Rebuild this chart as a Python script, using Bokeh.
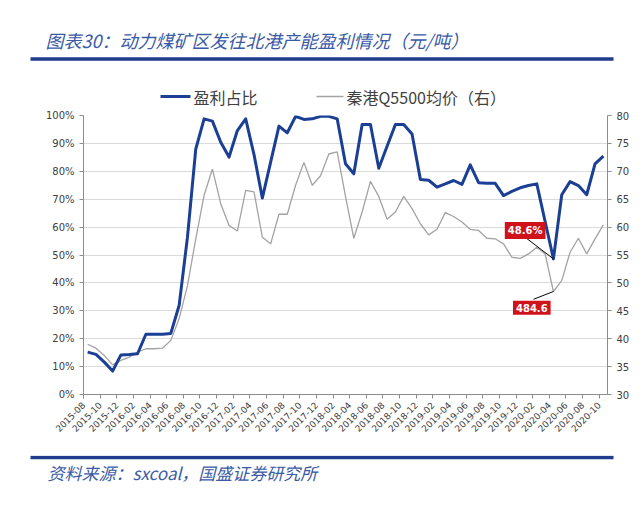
from bokeh.plotting import figure
from bokeh.models import (Range1d, LinearAxis, FixedTicker, PrintfTickFormatter,
                          Label, ColumnDataSource)
from bokeh.layouts import column, row
from bokeh.core.properties import value
from bokeh.embed import file_html
from bokeh.resources import INLINE
import math

# ---------------- data ----------------
tick_labels = ["2015-08", "2015-10", "2015-12", "2016-02", "2016-04", "2016-06",
               "2016-08", "2016-10", "2016-12", "2017-02", "2017-04", "2017-06",
               "2017-08", "2017-10", "2017-12", "2018-02", "2018-04", "2018-06",
               "2018-08", "2018-10", "2018-12", "2019-02", "2019-04", "2019-06",
               "2019-08", "2019-10", "2019-12", "2020-02", "2020-04", "2020-06",
               "2020-08", "2020-10"]

profit_share = [15.2, 14.4, 11.6, 8.4, 14.2, 14.3, 14.6, 21.6, 21.6, 21.6, 21.9,
                32.0, 56.4, 88.0, 98.8, 98.0, 90.4, 85.1, 94.6, 98.8, 86.0,
                70.4, 83.3, 96.2, 93.8, 99.7, 98.6, 98.8, 99.7, 99.7, 98.8,
                82.7, 79.1, 96.8, 96.8, 81.1, 89.0, 96.8, 96.8, 93.4, 77.1,
                76.8, 74.3, 75.5, 76.7, 75.3, 82.3, 75.9, 75.7, 75.7, 71.3,
                72.8, 74.1, 74.9, 75.5, 62.0, 48.6, 71.6, 76.3, 74.9, 71.6, 82.7, 85.4]

qhd_price = [39.0, 38.3, 37.0, 35.3, 36.1, 36.7, 37.6, 38.2, 38.2, 38.3, 39.7,
             43.6, 49.5, 57.9, 65.7, 70.4, 64.2, 60.3, 59.3, 66.6, 66.3,
             58.2, 57.0, 62.3, 62.3, 67.5, 71.6, 67.5, 69.2, 73.1, 73.5,
             65.5, 58.0, 62.7, 68.2, 65.5, 61.4, 62.7, 65.5, 63.3, 60.6,
             58.6, 59.6, 62.6, 61.9, 60.9, 59.6, 59.4, 58.0, 57.9, 57.0,
             54.6, 54.4, 55.2, 56.4, 55.2, 48.46, 50.4, 55.5, 58.0, 55.2, 57.9, 60.4]

month_index = list(range(len(profit_share)))

series_names = ["盈利占比", "秦港Q5500均价（右）"]
title_text = "图表30：动力煤矿区发往北港产能盈利情况（元/吨）"
source_text = "资料来源：sxcoal，国盛证券研究所"

# ---------------- styles ----------------
BLUE = "#1b3f95"
GRAY = "#a3a3a3"
RULE = "#1f3d8c"
TXT = "#404040"
HEAD_TXT = "#3a5ba6"
CJK = "Noto Sans CJK SC"
W = 640


def blank_panel(height, top_px):
    """A figure whose frame is the whole canvas; y values are page pixels from the top."""
    f = figure(width=W, height=height, x_range=Range1d(0, W),
               y_range=Range1d(top_px + height, top_px),
               output_backend="svg", toolbar_location=None,
               min_border_left=0, min_border_right=0, min_border_top=0, min_border_bottom=0)
    f.axis.visible = False
    f.grid.visible = False
    f.outline_line_color = None
    return f


# ---------------- header ----------------
HEAD_H = 108
head = blank_panel(HEAD_H, 0)
head.text(x=[45], y=[39], text=[title_text], text_font=value(CJK), text_font_size="18px",
          text_font_style="italic", text_color=HEAD_TXT, text_baseline="middle")
head.segment(x0=[30], y0=[58.5], x1=[613], y1=[58.5], line_color=RULE, line_width=3.5)
# legend drawn as line samples + text
head.segment(x0=[160, 316], y0=[96, 96], x1=[190, 343], y1=[96, 96],
             line_color=[BLUE, GRAY], line_width=[3, 1.3])
head.text(x=[193, 346], y=[96, 96], text=series_names, text_font=value(CJK),
          text_font_size="16px", text_color=TXT, text_baseline="middle")

# ---------------- main chart ----------------
MAIN_H = 455 - HEAD_H
TOP_B = 115 - HEAD_H
p = figure(width=W, height=MAIN_H, x_range=Range1d(-0.5, len(month_index) - 0.5),
           y_range=Range1d(0, 100), output_backend="svg", toolbar_location=None,
           min_border_left=83, min_border_right=33, min_border_top=TOP_B,
           min_border_bottom=MAIN_H - TOP_B - 279)
p.outline_line_color = None
p.xgrid.visible = False
p.ygrid.grid_line_color = "#dadada"
p.ygrid.grid_line_width = 1
p.ygrid.ticker = FixedTicker(ticks=list(range(0, 101, 10)))

p.extra_y_ranges = {"price": Range1d(30, 80)}

tick_pos = [-0.5 + 2 * k for k in range(len(tick_labels))]
p.xaxis.ticker = FixedTicker(ticks=tick_pos)
p.xaxis.major_label_overrides = {t: lab for t, lab in zip(tick_pos, tick_labels)}
p.xaxis.major_label_orientation = math.pi / 4
p.xaxis.major_label_text_font_size = "9px"

p.yaxis.ticker = FixedTicker(ticks=list(range(0, 101, 10)))
p.yaxis.formatter = PrintfTickFormatter(format="%d%%")
p.yaxis.major_label_text_font_size = "10px"

raxis = LinearAxis(y_range_name="price", ticker=FixedTicker(ticks=list(range(30, 81, 5))))
raxis.major_label_text_font_size = "10px"
p.add_layout(raxis, "right")

for ax in [p.xaxis[0], p.yaxis[0], raxis]:
    ax.axis_line_color = "#8c8c8c"
    ax.major_tick_line_color = "#8c8c8c"
    ax.major_tick_in = 0
    ax.major_tick_out = 4
    ax.minor_tick_line_color = None
    ax.major_label_text_color = TXT
    ax.major_label_text_font = "DejaVu Sans"
    ax.major_label_standoff = 5

src = ColumnDataSource(dict(x=month_index, share=profit_share, price=qhd_price))
p.line("x", "price", source=src, y_range_name="price", line_color=GRAY, line_width=1.3)
p.line("x", "share", source=src, line_color=BLUE, line_width=3, line_join="round")

# ---- trough annotations (2020-04) ----
i_min = profit_share.index(min(profit_share[40:]))
j_min = qhd_price.index(min(qhd_price[40:]))
p.segment(x0=[i_min], y0=[profit_share[i_min]], x1=[i_min - 3.2], y1=[profit_share[i_min] + 7.3],
          line_color="black", line_width=1)
p.segment(x0=[j_min], y0=[qhd_price[j_min]], x1=[j_min - 2.4], y1=[qhd_price[j_min] - 1.4],
          y_range_name="price", line_color="black", line_width=1)
lab1 = Label(x=i_min - 3.4, y=profit_share[i_min] + 10.2, text=f"{profit_share[i_min]:.1f}%",
             text_align="center", text_baseline="middle", text_color="white",
             text_font="DejaVu Sans", text_font_style="bold", text_font_size="10px",
             background_fill_color="#d0121b", padding=3)
lab2 = Label(x=j_min - 2.6, y=qhd_price[j_min] - 2.9, y_range_name="price",
             text=f"{qhd_price[j_min] * 10:.1f}",
             text_align="center", text_baseline="middle", text_color="white",
             text_font="DejaVu Sans", text_font_style="bold", text_font_size="10px",
             background_fill_color="#d0121b", padding=3)
p.add_layout(lab1)
p.add_layout(lab2)

# ---------------- footer ----------------
foot = blank_panel(515 - 455, 455)
foot.segment(x0=[30], y0=[457], x1=[613], y1=[457], line_color=RULE, line_width=3.5)
foot.text(x=[47], y=[472], text=[source_text], text_font=value(CJK), text_font_size="17px",
          text_font_style="italic", text_color=HEAD_TXT, text_baseline="middle")

layout = column(row(head), p, row(foot), spacing=0)
open("out.html", "w").write(file_html(layout, INLINE))
